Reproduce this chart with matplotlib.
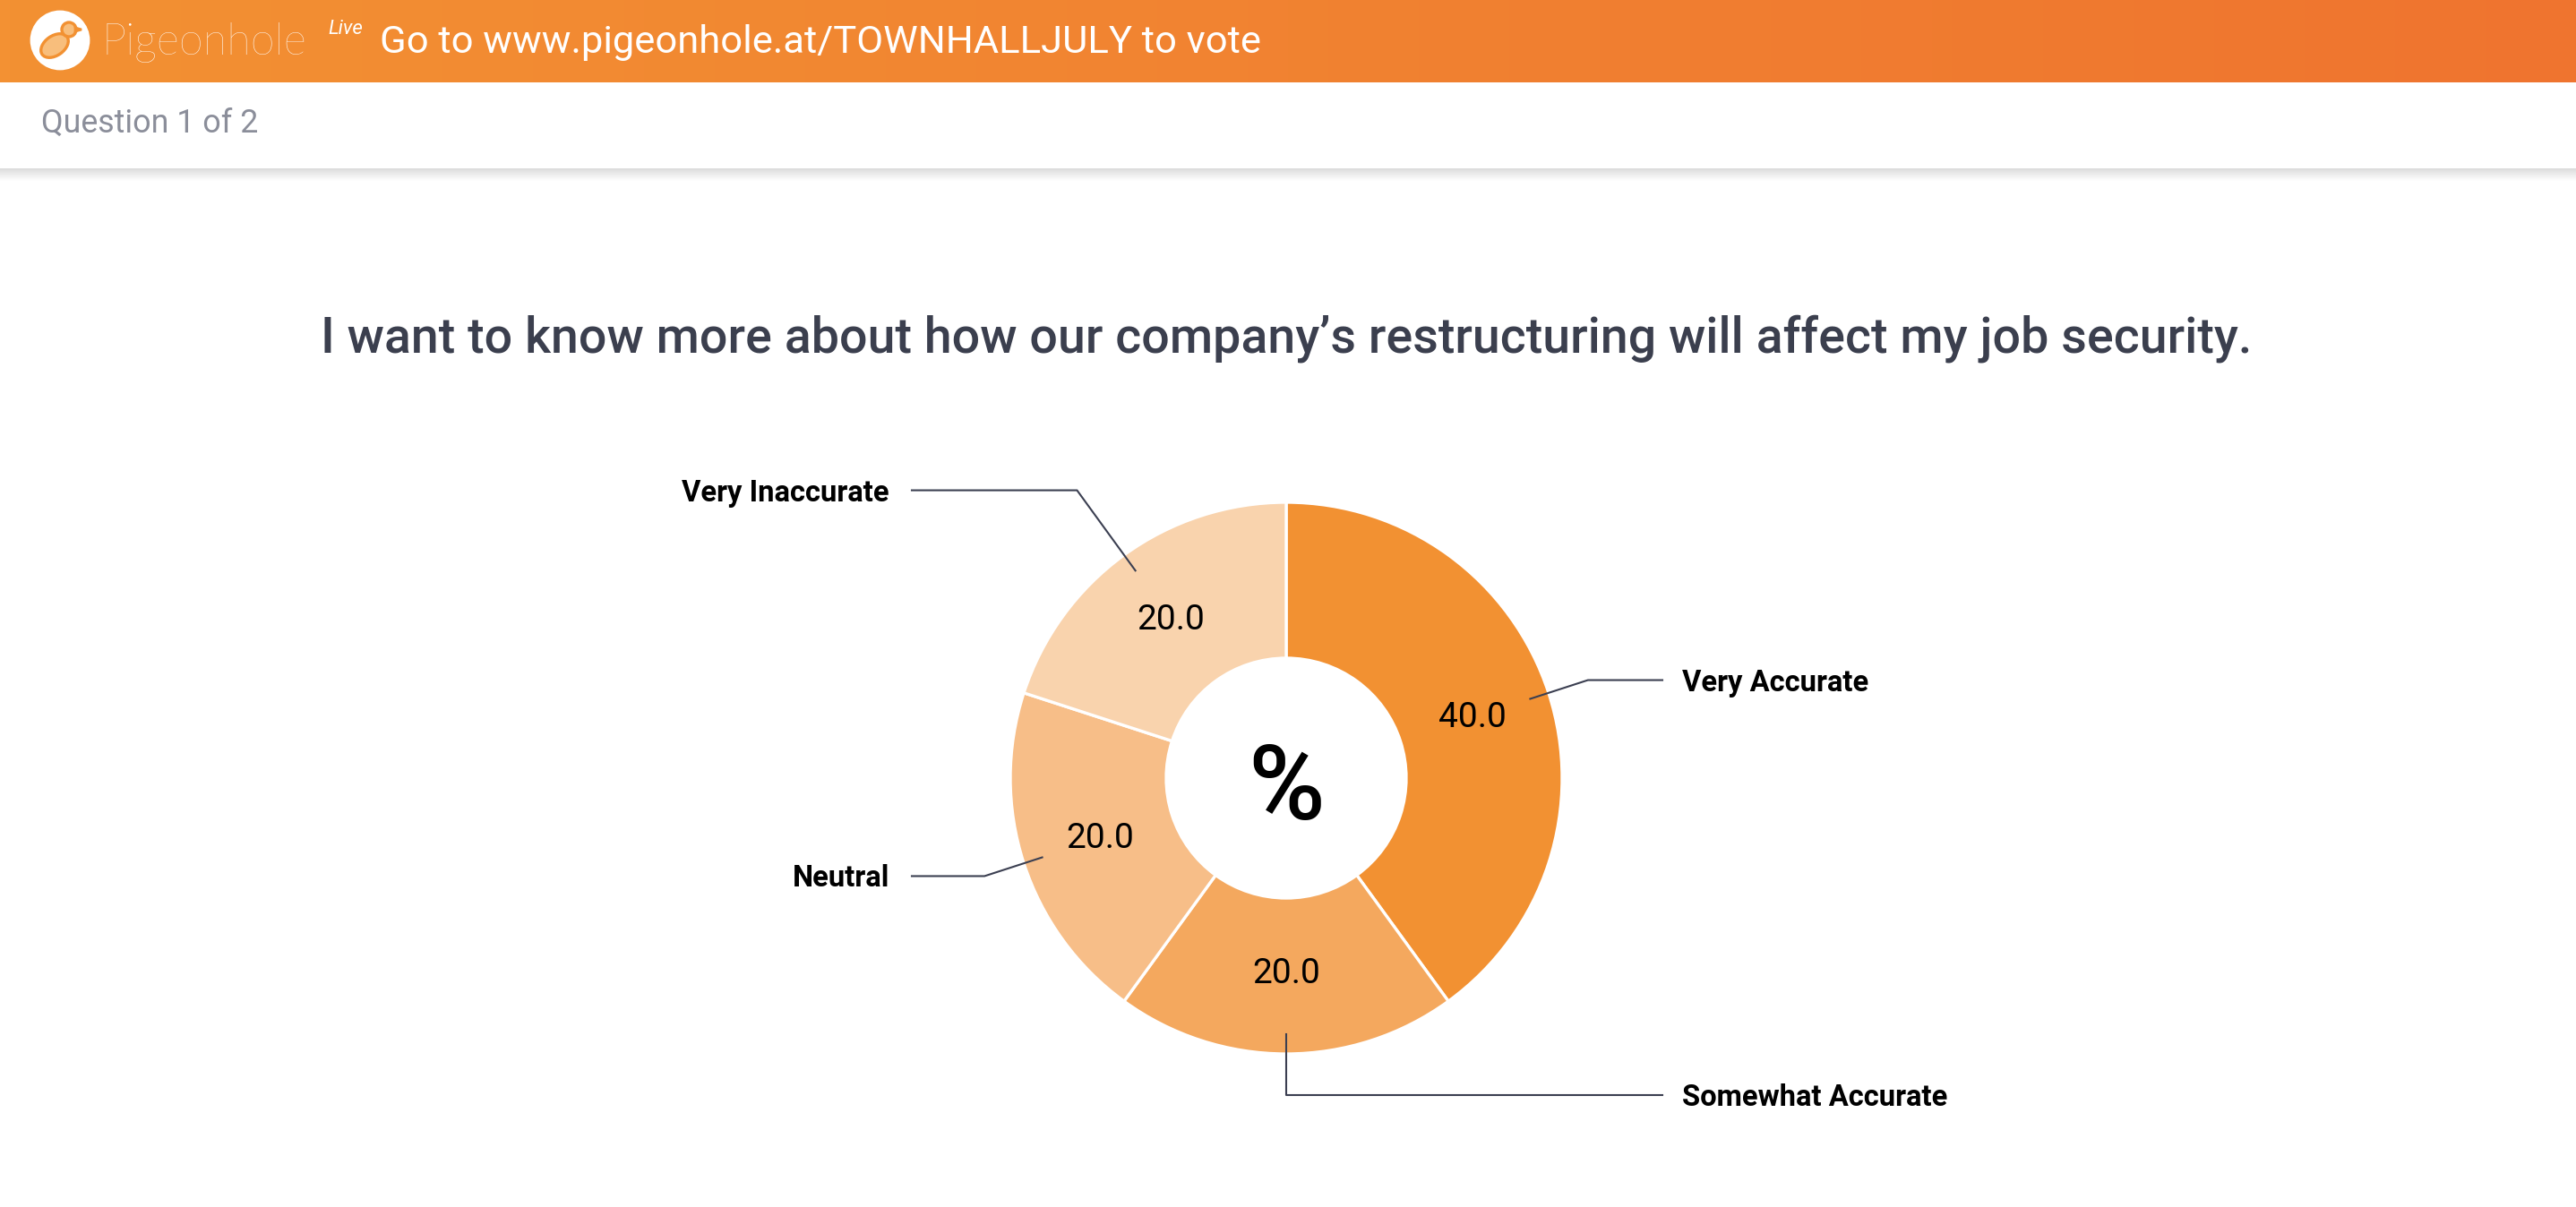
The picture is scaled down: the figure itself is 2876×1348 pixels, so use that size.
import numpy as np
import matplotlib.pyplot as plt
from matplotlib.patches import Circle, Ellipse, Polygon

plt.rcParams["font.family"] = ["Roboto", "DejaVu Sans"]

# data
categories = ["Very Accurate", "Somewhat Accurate", "Neutral", "Very Inaccurate"]
values = [40.0, 20.0, 20.0, 20.0]
colors = ["#F29132", "#F4A85E", "#F7BE88", "#F9D3AD"]

title = "I want to know more about how our company\u2019s restructuring will affect my job security."
header_text = "Go to www.pigeonhole.at/TOWNHALLJULY to vote"
question_text = "Question 1 of 2"

# layout (pixel units, y measured upward)
W, H = 2876, 1348
cx, cy = 1436, 479
R = 308
ring = 174
elbow_r = [1.15, 1.15, 1.15, 1.29]

fig = plt.figure(figsize=(W / 200, H / 200), dpi=200)
ax = fig.add_axes([0, 0, 1, 1])

# header gradient
grad = np.linspace(0, 1, 256).reshape(1, -1)
c0 = np.array([0xF3, 0x91, 0x33]) / 255
c1 = np.array([0xEF, 0x74, 0x2F]) / 255
img = c0[None, None, :] * (1 - grad[..., None]) + c1[None, None, :] * grad[..., None]
ax.imshow(img, extent=(0, W, H - 92, H), aspect="auto", zorder=0)

# shadow under sub-header
sh = np.linspace(0, 1, 64).reshape(-1, 1)
g0 = np.array([0.86, 0.86, 0.86])
shade = g0[None, None, :] * (1 - sh[..., None]) + np.ones(3)[None, None, :] * sh[..., None]
ax.imshow(shade, extent=(0, W, H - 202, H - 188), aspect="auto", zorder=0)

# logo
ax.add_patch(Circle((67, H - 45), 32, color="white", zorder=2))
ax.add_patch(Ellipse((61, H - 51), 34, 22, angle=35, facecolor="#F8BE7C",
                     edgecolor="#F29132", lw=1.2, zorder=3))
ax.add_patch(Circle((77, H - 33), 8, facecolor="#F8BE7C", edgecolor="#F29132", lw=1.2, zorder=3))
ax.add_patch(Polygon([(84, H - 31), (91, H - 33), (84, H - 35)], color="#F29132", zorder=3))
ax.text(113, H - 47, "Pigeonhole", color="white", fontsize=17.5, family=["Lato", "DejaVu Sans"],
        fontweight="light", va="center", ha="left")
ax.text(366, H - 32, "Live", color="white", fontsize=8, style="italic", va="center", ha="left")
ax.text(424, H - 47, header_text, color="white", fontsize=15.65, va="center", ha="left")

ax.text(46, H - 138, question_text, color="#8B8E9A", fontsize=12.9, va="center", ha="left")

ax.text(cx, H - 378, title, color="#3B3F4E", fontsize=20, fontweight="medium",
        va="center", ha="center")

# donut
wedges, _, autotexts = ax.pie(values, colors=colors, startangle=90, counterclock=False,
                              radius=R, center=(cx, cy), autopct="%.1f", pctdistance=0.71,
                              wedgeprops=dict(width=ring, edgecolor="white", linewidth=1.2),
                              textprops=dict(fontsize=14, color="black"))

ax.text(cx, cy - 14, "%", fontsize=42, fontweight="medium", ha="center", va="center", color="black")

# leader lines and labels
for w, lab, er in zip(wedges, categories, elbow_r):
    mid = np.deg2rad((w.theta1 + w.theta2) / 2)
    x0, y0 = cx + 0.93 * R * np.cos(mid), cy + 0.93 * R * np.sin(mid)
    x1, y1 = cx + er * R * np.cos(mid), cy + er * R * np.sin(mid)
    if np.cos(mid) > -0.1:
        x2, tx, ha = 1856, 1878, "left"
    else:
        x2, tx, ha = 1018, 993, "right"
    ax.plot([x0, x1, x2], [y0, y1, y1], color="#3B3F51", lw=0.75, zorder=4)
    ax.text(tx, y1 - 3, lab, fontsize=11.8, fontweight="bold", ha=ha, va="center", color="black")

ax.set_xlim(0, W)
ax.set_ylim(0, H)
ax.set_aspect("auto")
ax.axis("off")

fig.savefig("out.png", dpi=200)
